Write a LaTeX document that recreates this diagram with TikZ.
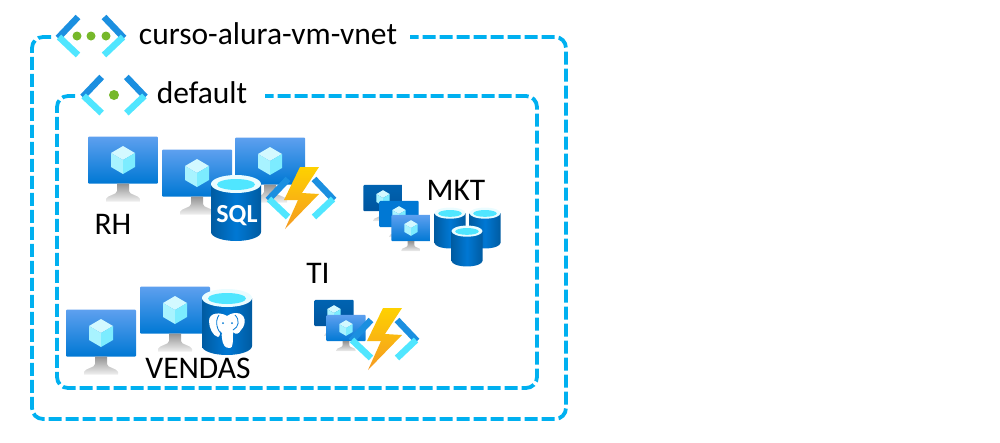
\documentclass[tikz,border=0pt]{standalone}
\usepackage{fontspec}
\setmainfont{Carlito}
\definecolor{framecol}{HTML}{00B0F0}
\definecolor{bluedark}{HTML}{1B8FE0}
\definecolor{bluelight}{HTML}{50E6FF}
\definecolor{screentop}{HTML}{5EA0EF}
\definecolor{screenbot}{HTML}{0078D4}
\definecolor{navytop}{HTML}{0063B1}
\definecolor{navybot}{HTML}{00559E}
\definecolor{dbedge}{HTML}{005BA1}
\definecolor{dbmid}{HTML}{0078D4}
\definecolor{boltA}{HTML}{FED100}
\definecolor{boltB}{HTML}{F59A23}
\definecolor{greendot}{HTML}{76B82A}
\tikzset{
  frameline/.style = {draw=framecol, line width=3.8pt, dash pattern=on 13pt off 4pt, rounded corners=11pt},
  lbl/.style = {font=\fontsize{31.5}{34}\selectfont, anchor=base, inner sep=0pt},
  armdark/.style = {draw=bluedark, line width=6.5pt},
  armlight/.style = {draw=bluelight, line width=6.5pt},
  pics/vm/.style 2 args = {code = {
    \path[top color=#1, bottom color=#2, rounded corners=1pt] (-35,-23.5) rectangle (35,23.5);
    \path[top color=gray!85, bottom color=gray!12] (-6,23.5) -- (-6,31) .. controls (-6,35) and (-16,35) .. (-17,39) -- (-17,41.5) -- (17,41.5) -- (17,39) .. controls (16,35) and (6,35) .. (6,31) -- (6,23.5) -- cycle;
    \fill[bluelight!25!white] (0,-14) -- (12,-7) -- (0,0) -- (-12,-7) -- cycle;
    \fill[bluelight!50!white] (-12,-7) -- (0,0) -- (0,14) -- (-12,7) -- cycle;
    \fill[bluelight!75!white] (12,-7) -- (0,0) -- (0,14) -- (12,7) -- cycle;
  }},
  pics/db/.style = {code = {
    \path[left color=dbedge, right color=dbedge, middle color=dbmid] (-25,-24) -- (-25,24) arc[start angle=180, end angle=0, x radius=25, y radius=9] -- (25,-24) -- cycle;
    \fill[white!88!bluelight] (0,-24) ellipse [x radius=25, y radius=9];
    \fill[bluelight] (0,-23.5) ellipse [x radius=19, y radius=5.5];
  }},
  pics/brackets/.style = {code = {
    \draw[armdark] (-33,2) -- (-13,-19);
    \draw[armlight] (-32,1) -- (-13,19);
    \draw[armdark] (13,-19) -- (33,2);
    \draw[armlight] (32,1) -- (13,19);
  }},
  pics/funcicon/.style = {code = {
    \pic {brackets};
    \path[top color=boltA, bottom color=boltB] (-1,-31) -- (18,-31) -- (1,-5) -- (18,-4) -- (-16,31) -- (-3,2) -- (-17,2) -- cycle;
  }},
  pics/elephant/.style = {code = {
    \fill[white] (0,-6) .. controls (-6,-10) and (-18,-10) .. (-18,-1) .. controls (-18,6) and (-14,14) .. (-9,15) .. controls (-7,15) and (-7,10) .. (-6,8) -- (-5,16) .. controls (-4,24) and (-2,26) .. (3,26) .. controls (6,26) and (6,20) .. (6,10) .. controls (9,13) and (12,12) .. (14,8) .. controls (20,2) and (19,-9) .. (9,-9) .. controls (4,-9) and (2,-7) .. (0,-6) -- cycle;
    \draw[dbmid, line width=.8pt] (-8,-7) .. controls (-13,0) and (-9,10) .. (-5,12);
    \draw[dbmid, line width=.8pt] (8,-7) .. controls (13,-2) and (12,5) .. (6,8);
    \fill[dbmid] (-4,1) circle (1) (5,1) circle (1);
  }},
}
\begin{document}
\begin{tikzpicture}[x=1pt,y=-1pt]
\useasboundingbox (0,0) rectangle (1000,442);

\coordinate (outerstart) at (51,37);
\coordinate (outerend) at (410,37);
\coordinate (innerstart) at (75,96);
\coordinate (innerend) at (265,96);
\draw[frameline] (outerstart) -- (32,37) -- (32,419) -- (566,419) -- (566,37) -- (outerend);
\draw[frameline] (innerstart) -- (57,96) -- (57,388) -- (537,388) -- (537,96) -- (innerend);

\pic at (91,36) {brackets};
\foreach \dotx in {77,91,106} \fill[greendot] (\dotx,36) circle (4.5);
\pic[scale=.95] at (114,95) {brackets};
\fill[greendot] (114,95) circle (5);
\node[lbl] (vnetlabel) at (268,44) {curso-alura-vm-vnet};
\node[lbl] (subnetlabel) at (202,103) {default};

\pic at (123,160) {vm={screentop}{screenbot}};
\pic at (197,173) {vm={screentop}{screenbot}};
\pic at (270,161) {vm={screentop}{screenbot}};
\pic at (236,208) {db};
\node[font=\fontsize{26}{28}\selectfont\bfseries, text=white, inner sep=0pt, anchor=base] (sqllabel) at (237,222) {SQL};
\pic at (301,198) {funcicon};
\node[lbl] (rhlabel) at (113,234) {RH};

\pic[scale=.56] at (383,198) {vm={navytop}{navybot}};
\pic[scale=.56] at (399,214) {vm={screenbot}{screenbot}};
\pic[scale=.56] at (411,228) {vm={screentop}{screenbot}};
\pic[scale=.62] at (450,228) {db};
\pic[scale=.62] at (485,228) {db};
\pic[scale=.62] at (467,246) {db};
\node[lbl] (mktlabel) at (456,200) {MKT};

\pic at (101,333) {vm={screentop}{screenbot}};
\pic at (175,310) {vm={screentop}{screenbot}};
\pic at (227,322) {db};
\pic at (227,322) {elephant};
\node[lbl] (vendaslabel) at (198,378) {VENDAS};

\pic[scale=.56] at (334,313) {vm={navytop}{navybot}};
\pic[scale=.56] at (346,328) {vm={screentop}{screenbot}};
\pic at (384,339) {funcicon};
\node[lbl] (tilabel) at (318,283) {TI};
\end{tikzpicture}
\end{document}
